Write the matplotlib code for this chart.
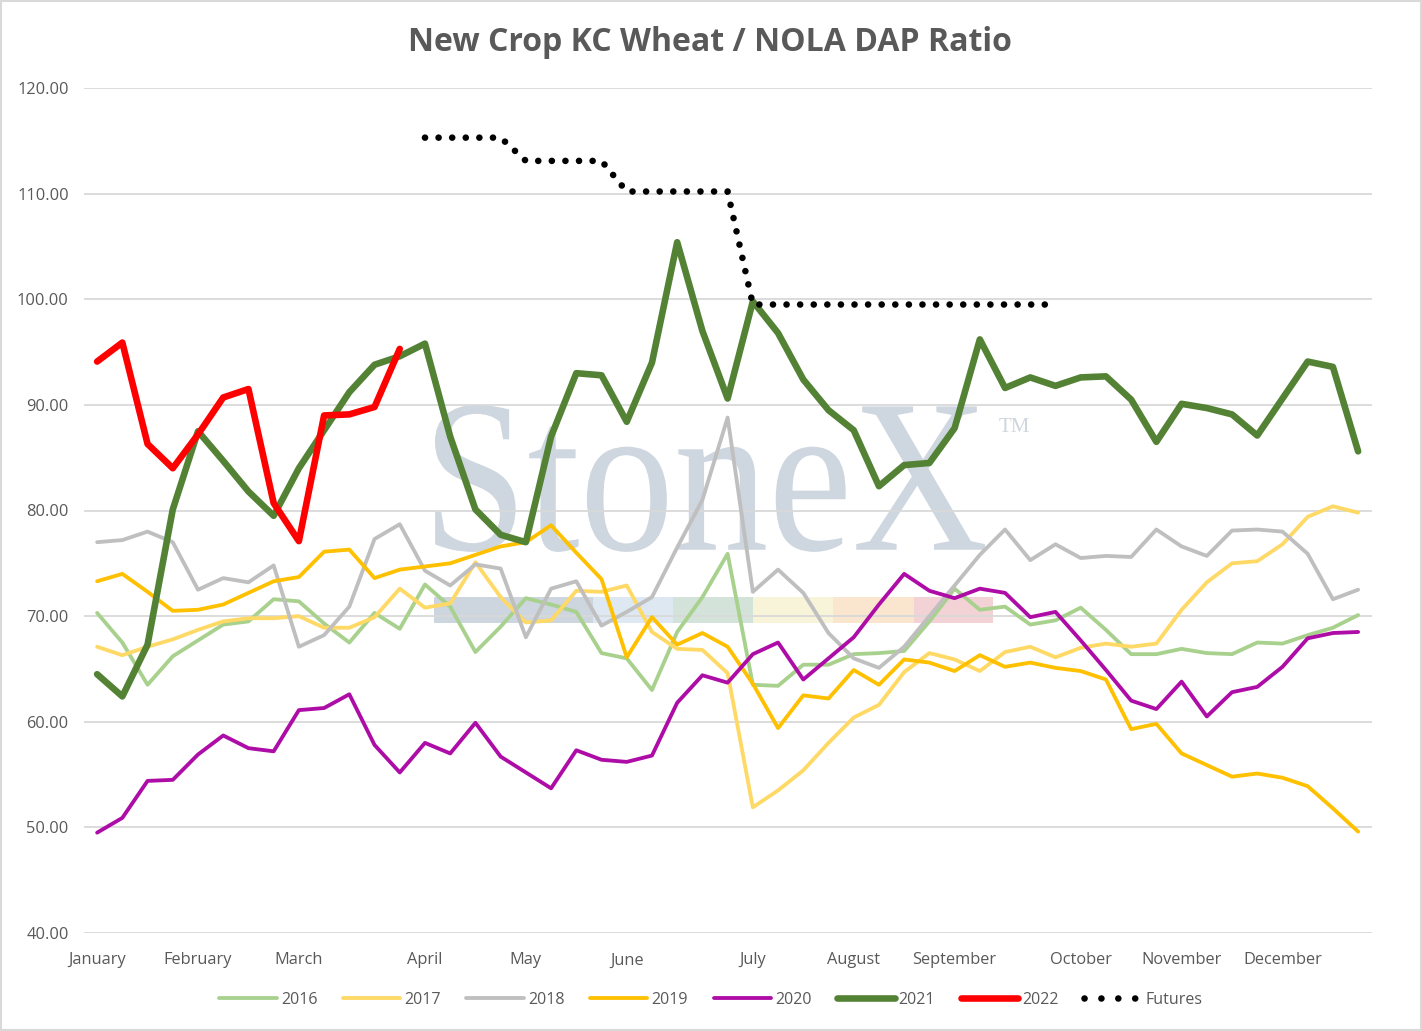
import numpy as np
import matplotlib
matplotlib.use('Agg')
import matplotlib.pyplot as plt
import matplotlib.transforms as mtransforms
from matplotlib.textpath import TextPath
from matplotlib.patches import PathPatch, Rectangle
from matplotlib.lines import Line2D
from matplotlib.font_manager import FontProperties

plt.rcParams['font.family'] = ['Open Sans', 'DejaVu Sans']

# weekly ratio values, 51 weeks per year
months = ['January', 'February', 'March', 'April', 'May', 'June', 'July',
          'August', 'September', 'October', 'November', 'December']
month_week = [0, 4, 8, 13, 17, 21, 26, 30, 34, 39, 43, 47]

y2016 = [70.3, 67.5, 63.5, 66.2, 67.7, 69.2, 69.5, 71.6, 71.4, 69.3, 67.5, 70.3, 68.8,
         73.0, 70.9, 66.6, 69.0, 71.7, 71.1, 70.4, 66.5, 66.0, 63.0, 68.5, 71.8, 75.9,
         63.5, 63.4, 65.4, 65.4, 66.4, 66.5, 66.7, 69.5, 72.6, 70.6, 70.9, 69.2, 69.6,
         70.8, 68.7, 66.4, 66.4, 66.9, 66.5, 66.4, 67.5, 67.4, 68.2, 68.9, 70.1]
y2017 = [67.1, 66.3, 67.1, 67.8, 68.7, 69.5, 69.8, 69.8, 70.0, 68.9, 68.9, 69.9, 72.6,
         70.8, 71.2, 75.1, 71.8, 69.4, 69.6, 72.4, 72.3, 72.9, 68.5, 66.9, 66.8, 64.6,
         51.9, 53.5, 55.4, 58.0, 60.4, 61.6, 64.7, 66.5, 65.9, 64.8, 66.6, 67.1, 66.1,
         67.0, 67.4, 67.1, 67.4, 70.6, 73.2, 75.0, 75.2, 76.8, 79.4, 80.4, 79.8]
y2018 = [77.0, 77.2, 78.0, 77.0, 72.5, 73.6, 73.2, 74.8, 67.1, 68.2, 70.9, 77.3, 78.7,
         74.3, 72.9, 74.9, 74.5, 68.0, 72.6, 73.3, 69.1, 70.4, 71.8, 76.5, 81.0, 88.8,
         72.3, 74.4, 72.2, 68.4, 66.0, 65.1, 67.1, 70.0, 72.9, 75.8, 78.2, 75.3, 76.8,
         75.5, 75.7, 75.6, 78.2, 76.6, 75.7, 78.1, 78.2, 78.0, 75.9, 71.6, 72.5]
y2019 = [73.3, 74.0, 72.3, 70.5, 70.6, 71.1, 72.2, 73.3, 73.7, 76.1, 76.3, 73.6, 74.4,
         74.7, 75.0, 75.8, 76.6, 77.0, 78.6, 76.0, 73.5, 66.1, 69.9, 67.3, 68.4, 67.1,
         63.6, 59.4, 62.5, 62.2, 64.9, 63.5, 65.9, 65.6, 64.8, 66.3, 65.2, 65.6, 65.1,
         64.8, 64.0, 59.3, 59.8, 57.0, 55.9, 54.8, 55.1, 54.7, 53.9, 51.8, 49.6]
y2020 = [49.5, 50.9, 54.4, 54.5, 56.9, 58.7, 57.5, 57.2, 61.1, 61.3, 62.6, 57.8, 55.2,
         58.0, 57.0, 59.9, 56.7, 55.2, 53.7, 57.3, 56.4, 56.2, 56.8, 61.8, 64.4, 63.7,
         66.4, 67.5, 64.0, 66.0, 68.0, 71.1, 74.0, 72.4, 71.7, 72.6, 72.2, 69.9, 70.4,
         67.7, 64.9, 62.0, 61.2, 63.8, 60.5, 62.8, 63.3, 65.2, 67.9, 68.4, 68.5]
y2021 = [64.5, 62.4, 67.3, 80.1, 87.5, 84.7, 81.8, 79.5, 84.0, 87.6, 91.2, 93.8, 94.6,
         95.8, 87.0, 80.1, 77.7, 77.0, 87.0, 93.0, 92.8, 88.4, 94.0, 105.4, 97.0, 90.6,
         99.8, 96.8, 92.4, 89.5, 87.6, 82.3, 84.3, 84.5, 87.8, 96.2, 91.6, 92.6, 91.8,
         92.6, 92.7, 90.5, 86.5, 90.1, 89.7, 89.1, 87.1, 90.6, 94.1, 93.6, 85.6]
y2022 = [94.1, 95.9, 86.3, 84.0, 87.2, 90.7, 91.5, 80.7, 77.1, 89.0, 89.1, 89.8, 95.3]
futures_week = [13, 14, 15, 16, 17, 18, 19, 20, 21, 22, 23, 24, 25,
                26, 27, 28, 29, 30, 31, 32, 33, 34, 35, 36, 37, 38]
futures = [115.3, 115.3, 115.3, 115.3, 113.1, 113.1, 113.1, 113.1, 110.2, 110.2, 110.2, 110.2, 110.2,
           99.5, 99.5, 99.5, 99.5, 99.5, 99.5, 99.5, 99.5, 99.5, 99.5, 99.5, 99.5, 99.5]

txt = '#595959'
fig = plt.figure(figsize=(14.22, 10.31), dpi=100)
ax = fig.add_axes([84/1422, 98/1031, 1288/1422, 845/1031])

# StoneX watermark
tp = TextPath((0, 0), 'StoneX', size=1, prop=FontProperties(family='Liberation Serif'))
ext = tp.get_extents()
x0, y0, x1, y1 = 0.2725, 0.451, 0.6995, 0.625
tr = (mtransforms.Affine2D().translate(-ext.x0, -ext.y0)
      .scale((x1 - x0) / ext.width, (y1 - y0) / ext.height)
      .translate(x0, y0) + ax.transAxes)
ax.add_patch(PathPatch(tp, transform=tr, fc='#CED6DF', ec='none', zorder=0.2))
ax.text(0.7105, 0.598, 'TM', transform=ax.transAxes, fontsize=15, color='#CED6DF',
        family='Liberation Serif', va='center', ha='left', zorder=0.2)
bar_edges = [0.2717, 0.3952, 0.4573, 0.5194, 0.5815, 0.6444, 0.7058]
bar_cols = ['#CDD5DF', '#DDE8F2', '#D4E3D9', '#F8F4DA', '#FAE5CE', '#F3D2D5']
for i in range(6):
    ax.add_patch(Rectangle((bar_edges[i], 0.367), bar_edges[i+1] - bar_edges[i], 0.031,
                           transform=ax.transAxes, fc=bar_cols[i], ec='none', zorder=0.2))

wk = np.arange(len(y2016))
kw = dict(solid_capstyle='round', solid_joinstyle='round')
ax.plot(wk, y2016, color='#A9D18E', lw=2.75, label='2016', **kw)
ax.plot(wk, y2017, color='#FFD966', lw=2.75, label='2017', **kw)
ax.plot(wk, y2018, color='#BFBFBF', lw=2.75, label='2018', **kw)
ax.plot(wk, y2019, color='#FFC000', lw=2.75, label='2019', **kw)
ax.plot(wk, y2020, color='#AE0CA6', lw=2.75, label='2020', **kw)
ax.plot(wk, y2021, color='#548235', lw=4.75, label='2021', **kw)
ax.plot(np.arange(len(y2022)), y2022, color='#FF0000', lw=4.75, label='2022', **kw)
ax.plot(futures_week, futures, color='black', lw=4.75, linestyle=(0, (0.01, 2.05)),
        dash_capstyle='round', label='Futures')

ax.set_xlim(-0.52, 50.55)
ax.set_ylim(40, 120)
ax.set_yticks(np.arange(40, 121, 10))
ax.set_yticklabels(['%.2f' % v for v in np.arange(40, 121, 10)])
ax.set_xticks(month_week)
ax.set_xticklabels(months)
ax.tick_params(length=0, labelsize=11.8, labelcolor=txt)
ax.tick_params(axis='y', pad=11)
ax.tick_params(axis='x', pad=14)
ax.grid(axis='y', color='#D9D9D9', lw=1.3)
ax.set_axisbelow(True)
for s in ax.spines.values():
    s.set_visible(False)

fig.text(0.4993, 0.959, 'New Crop KC Wheat / NOLA DAP Ratio', ha='center', va='center',
         fontsize=23, fontweight='bold', color=txt)

handles, labels = ax.get_legend_handles_labels()
handles[-1] = Line2D([], [], color='black', lw=4.75, linestyle=(0, (0.01, 2.55)),
                     dash_capstyle='round')
leg = fig.legend(handles, labels, loc='center', bbox_to_anchor=(0.5, 0.030), ncol=8,
                 frameon=False, fontsize=11.5, handlelength=3.6, handletextpad=0.25,
                 columnspacing=1.6)
for t in leg.get_texts():
    t.set_color(txt)

fig.add_artist(Rectangle((0.001, 0.001), 0.998, 0.998, transform=fig.transFigure,
                         fill=False, ec='#D9D9D9', lw=1.5))

fig.savefig('out.png', dpi=100)
